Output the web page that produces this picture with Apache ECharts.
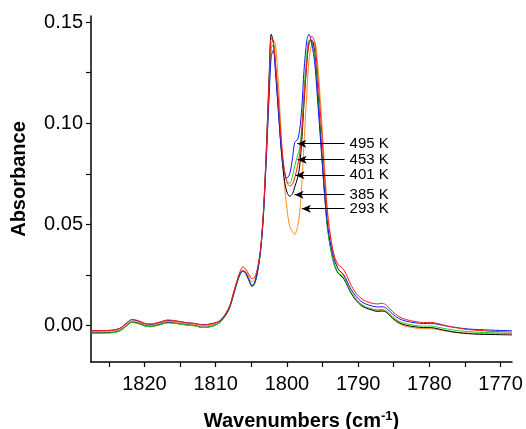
<!DOCTYPE html>
<html>
<head>
<meta charset="utf-8">
<script src="https://cdn.jsdelivr.net/npm/echarts@6/dist/echarts.min.js"></script>
<style>html,body{margin:0;padding:0;background:#fff}#c{width:526px;height:429px}</style>
</head>
<body>
<div id="c"></div>
<script>
var wavenumbers = [1827.5,1825,1823.5,1822.5,1821.8,1821,1820,1819.2,1818,1816.7,1815.5,1814,1813,1811.8,1810.5,1809.4,1808.5,1808,1807.5,1807,1806.6,1806.2,1805.8,1805.3,1804.9,1804.5,1804.1,1803.7,1803.3,1802.9,1802.5,1802.2,1801.9,1801.6,1801.2,1800.8,1800.4,1800.0,1799.6,1799.2,1798.9,1798.5,1798.2,1797.9,1797.6,1797.2,1796.9,1796.5,1796.1,1795.7,1795.2,1794.7,1794.3,1793.8,1793.3,1792.8,1792.4,1792.0,1791.5,1791.0,1790.3,1789.6,1789.0,1788.2,1787.3,1786.6,1786.0,1785.2,1784.3,1783.3,1782.0,1780.8,1779.8,1778.8,1777.5,1776,1774.5,1773,1771.5,1770,1768.4];

var abs293 = [-0.0030,-0.0029,-0.0020,0.0006,0.0022,0.0018,0.0005,0.0001,0.0009,0.0020,0.0016,0.0008,0.0005,-0.0003,0.0004,0.0022,0.0065,0.0102,0.0165,0.0225,0.0262,0.0275,0.0268,0.0238,0.0215,0.0228,0.0280,0.0375,0.0540,0.0820,0.1170,0.1390,0.1410,0.1390,0.1200,0.0950,0.0720,0.0580,0.0490,0.0465,0.0450,0.0490,0.0560,0.0700,0.0900,0.1150,0.1310,0.1390,0.1400,0.1300,0.1060,0.0780,0.0570,0.0420,0.0330,0.0280,0.0262,0.0245,0.0205,0.0168,0.0132,0.0106,0.0092,0.0082,0.0075,0.0076,0.0066,0.0035,0.0010,-0.0004,-0.0012,-0.0016,-0.0015,-0.0020,-0.0028,-0.0034,-0.0037,-0.0039,-0.0040,-0.0040,-0.0040];

var abs385 = [-0.0036,-0.0035,-0.0026,0.0000,0.0017,0.0013,0.0000,-0.0004,0.0004,0.0015,0.0011,0.0003,0.0000,-0.0009,-0.0003,0.0016,0.0056,0.0092,0.0152,0.0212,0.0252,0.0268,0.0258,0.0220,0.0193,0.0210,0.0270,0.0370,0.0555,0.0860,0.1230,0.1440,0.1400,0.1270,0.1070,0.0870,0.0730,0.0660,0.0639,0.0652,0.0685,0.0730,0.0790,0.0920,0.1100,0.1300,0.1400,0.1410,0.1350,0.1180,0.0910,0.0650,0.0485,0.0370,0.0295,0.0258,0.0245,0.0230,0.0195,0.0160,0.0125,0.0100,0.0088,0.0078,0.0070,0.0072,0.0065,0.0038,0.0015,0.0002,-0.0006,-0.0010,-0.0010,-0.0016,-0.0026,-0.0035,-0.0040,-0.0043,-0.0044,-0.0045,-0.0046];

var abs401 = [-0.0025,-0.0024,-0.0015,0.0012,0.0030,0.0026,0.0012,0.0008,0.0016,0.0028,0.0023,0.0013,0.0010,0.0003,0.0008,0.0025,0.0065,0.0100,0.0160,0.0220,0.0265,0.0290,0.0280,0.0250,0.0232,0.0240,0.0290,0.0380,0.0560,0.0850,0.1200,0.1420,0.1400,0.1300,0.1120,0.0920,0.0780,0.0710,0.0690,0.0700,0.0730,0.0790,0.0850,0.0960,0.1120,0.1300,0.1390,0.1430,0.1400,0.1250,0.1000,0.0730,0.0550,0.0420,0.0340,0.0300,0.0290,0.0275,0.0240,0.0200,0.0160,0.0135,0.0122,0.0112,0.0107,0.0110,0.0100,0.0070,0.0045,0.0030,0.0020,0.0015,0.0016,0.0010,-0.0002,-0.0012,-0.0020,-0.0024,-0.0028,-0.0030,-0.0032];

var abs453 = [-0.0038,-0.0037,-0.0028,-0.0002,0.0015,0.0011,-0.0002,-0.0006,0.0002,0.0013,0.0010,0.0002,-0.0001,-0.0010,-0.0004,0.0015,0.0055,0.0090,0.0150,0.0210,0.0250,0.0268,0.0258,0.0222,0.0196,0.0212,0.0272,0.0365,0.0545,0.0830,0.1160,0.1370,0.1390,0.1290,0.1090,0.0900,0.0770,0.0712,0.0703,0.0740,0.0790,0.0840,0.0880,0.0990,0.1160,0.1340,0.1410,0.1400,0.1330,0.1150,0.0890,0.0640,0.0480,0.0370,0.0300,0.0262,0.0250,0.0235,0.0200,0.0165,0.0130,0.0106,0.0094,0.0084,0.0078,0.0080,0.0072,0.0045,0.0022,0.0009,0.0001,-0.0003,-0.0002,-0.0008,-0.0017,-0.0025,-0.0030,-0.0033,-0.0035,-0.0037,-0.0038];

var abs495 = [-0.0025,-0.0024,-0.0014,0.0013,0.0029,0.0024,0.0010,0.0006,0.0014,0.0025,0.0022,0.0014,0.0011,0.0004,0.0010,0.0024,0.0060,0.0095,0.0155,0.0215,0.0255,0.0270,0.0262,0.0225,0.0198,0.0215,0.0275,0.0370,0.0540,0.0820,0.1130,0.1330,0.1360,0.1250,0.1060,0.0880,0.0770,0.0728,0.0750,0.0830,0.0905,0.0920,0.0970,0.1080,0.1260,0.1410,0.1440,0.1390,0.1300,0.1120,0.0880,0.0650,0.0500,0.0390,0.0320,0.0280,0.0265,0.0250,0.0215,0.0180,0.0145,0.0120,0.0108,0.0098,0.0092,0.0093,0.0085,0.0058,0.0035,0.0022,0.0014,0.0010,0.0011,0.0006,-0.0003,-0.0011,-0.0017,-0.0020,-0.0022,-0.0024,-0.0025];

var xLabelValues = [1770,1780,1790,1800,1810,1820];
var xTickValues = [1770,1775,1780,1785,1790,1795,1800,1805,1810,1815,1820,1825];
var yLabelValues = [0, 0.05, 0.10, 0.15];
var yTickValues = [0, 0.025, 0.05, 0.075, 0.10, 0.125, 0.15];

// annotation: label, arrow head [x, y], tail x
var annotLabels = ['495 K','453 K','401 K','385 K','293 K'];
var annotHeadX = [1798.54,1798.5,1798.78,1798.92,1797.9];
var annotHeadY = [0.0899,0.0820,0.0743,0.0647,0.0578];
var annotTailX = 1791.9;

function pairs(ys){ return wavenumbers.map(function(x,i){ return [x, ys[i]]; }); }

var seriesDefs = [
  {name:'293 K', data:abs293, color:'#FF8A1F'},
  {name:'385 K', data:abs385, color:'#000000'},
  {name:'453 K', data:abs453, color:'#1FD01F'},
  {name:'495 K', data:abs495, color:'#1515FF'},
  {name:'401 K', data:abs401, color:'#FF1A1A'}
];

var series = seriesDefs.map(function(s){
  return {
    type:'line', name:s.name, data:pairs(s.data), showSymbol:false, symbol:'none',
    smooth:0.3, lineStyle:{width:1, color:s.color}, itemStyle:{color:s.color}, z:2
  };
});

var mlData = annotLabels.map(function(lab,i){
  return [
    {name:lab, coord:[annotHeadX[i], annotHeadY[i]]},
    {coord:[annotTailX, annotHeadY[i]]}
  ];
});

series.push({
  type:'line', data:[], silent:true, z:5,
  markLine:{
    silent:true, animation:false,
    symbol:['arrow','none'], symbolSize:[6,9],
    lineStyle:{color:'#000', width:1, type:'solid'},
    label:{show:true, position:'end', distance:5, formatter:'{b}', color:'#000',
      fontFamily:'Liberation Sans, Arial, sans-serif', fontSize:15},
    emphasis:{disabled:true},
    data:mlData
  }
});

var FONT = 'Liberation Sans, Arial, sans-serif';
var chart = echarts.init(document.getElementById('c'), null, {renderer:'canvas'});
chart.setOption({
  animation:false,
  backgroundColor:'#fff',
  grid:{left:91, right:14, top:16, bottom:67, containLabel:false, outerBoundsMode:'none'},
  xAxis:{
    type:'value', inverse:true, min:1768.4, max:1827.5,
    name:'{a|Wavenumbers (cm}{s|-1}{a|)}', nameLocation:'middle', nameGap:48,
    nameTextStyle:{rich:{
      a:{fontFamily:FONT, fontWeight:'bold', fontSize:20, color:'#000'},
      s:{fontFamily:FONT, fontWeight:'bold', fontSize:13, color:'#000', padding:[0,0,10,0]}
    }},
    axisLine:{show:true, onZero:false, lineStyle:{color:'#000', width:1.5}},
    axisTick:{show:true, inside:false, length:5, customValues:xTickValues, lineStyle:{color:'#000', width:1.2}},
    axisLabel:{show:true, customValues:xLabelValues, margin:12, color:'#000',
      fontFamily:FONT, fontSize:20, formatter:function(v){ return String(Math.round(v)); }},
    splitLine:{show:false}
  },
  yAxis:{
    type:'value', min:-0.018, max:0.153,
    name:'Absorbance', nameLocation:'middle', nameGap:62, nameRotate:90,
    nameTextStyle:{fontFamily:FONT, fontWeight:'bold', fontSize:20, color:'#000', padding:[0,0,0,20]},
    axisLine:{show:true, onZero:false, lineStyle:{color:'#000', width:1.5}},
    axisTick:{show:true, inside:false, length:5, customValues:yTickValues, lineStyle:{color:'#000', width:1.2}},
    axisLabel:{show:true, customValues:yLabelValues, margin:8, color:'#000',
      fontFamily:FONT, fontSize:20,
      formatter:function(v){ return v.toFixed(2); }},
    splitLine:{show:false}
  },
  series:series
});
</script>
</body>
</html>
